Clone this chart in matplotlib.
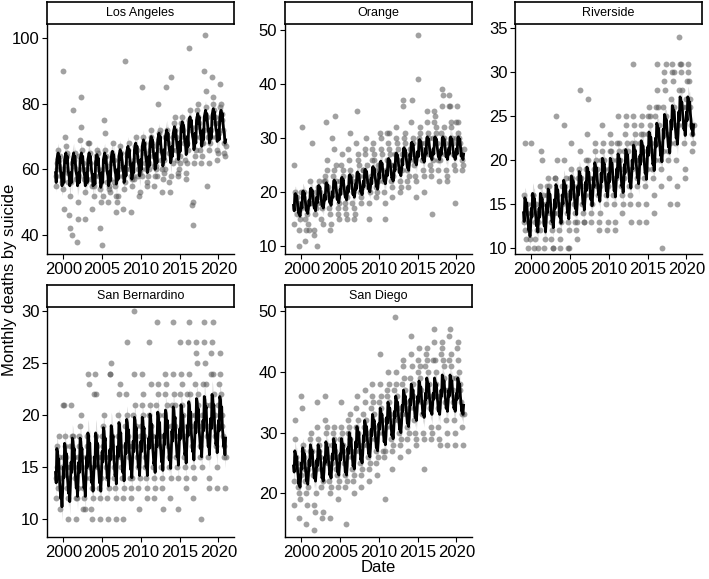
import matplotlib
matplotlib.use("Agg")
import matplotlib.pyplot as plt
import numpy as np

plt.rcParams['font.family'] = ['Liberation Sans', 'DejaVu Sans']

# ------------------------------------------------------------------ #
#  Monthly deaths by suicide, one row per year (1999 .. 2020, Jan-Dec)
# ------------------------------------------------------------------ #
years = list(range(1999, 2021))

la_deaths = [
    [58, 55, 62, 60, 66, 63, 61, 64, 60, 58, 56, 54],
    [90, 48, 60, 70, 67, 64, 65, 59, 56, 46, 42, 52],
    [56, 40, 62, 78, 61, 63, 65, 57, 60, 38, 45, 50],
    [58, 64, 69, 82, 73, 66, 62, 60, 57, 45, 53, 56],
    [60, 57, 68, 62, 68, 65, 62, 57, 48, 55, 58, 52],
    [55, 58, 62, 64, 66, 65, 60, 58, 54, 42, 50, 56],
    [37, 52, 60, 75, 71, 66, 64, 61, 56, 50, 54, 55],
    [57, 53, 62, 65, 64, 68, 63, 56, 55, 52, 47, 50],
    [58, 52, 60, 63, 67, 65, 62, 61, 58, 48, 54, 56],
    [93, 60, 64, 65, 66, 68, 62, 60, 58, 47, 55, 57],
    [58, 57, 63, 67, 64, 70, 66, 60, 58, 52, 53, 59],
    [60, 58, 85, 66, 70, 68, 65, 62, 60, 55, 56, 58],
    [62, 60, 66, 70, 72, 68, 67, 64, 61, 55, 58, 60],
    [61, 58, 68, 80, 71, 72, 66, 63, 60, 53, 57, 59],
    [63, 60, 70, 85, 72, 70, 68, 65, 56, 53, 58, 88],
    [66, 62, 70, 74, 72, 76, 70, 66, 63, 58, 59, 60],
    [64, 62, 74, 73, 76, 72, 70, 68, 63, 59, 57, 62],
    [68, 66, 75, 97, 78, 73, 72, 49, 50, 43, 62, 64],
    [70, 66, 73, 78, 80, 76, 74, 70, 66, 62, 64, 68],
    [68, 72, 90, 101, 79, 84, 76, 55, 70, 66, 62, 68],
    [72, 70, 88, 80, 82, 78, 76, 74, 70, 66, 63, 65],
    [74, 71, 79, 86, 80, 77, 75, 72, 68, 65, 64, 67],
]

orange_deaths = [
    [14, 25, 17, 20, 18, 19, 16, 18, 10, 13, 15, 17],
    [20, 32, 19, 18, 20, 15, 11, 13, 17, 16, 14, 18],
    [13, 18, 22, 20, 29, 18, 19, 12, 13, 16, 17, 20],
    [10, 18, 21, 19, 22, 20, 18, 15, 17, 14, 19, 22],
    [23, 22, 33, 26, 24, 21, 19, 17, 16, 13, 14, 30],
    [20, 23, 24, 28, 34, 25, 22, 19, 17, 16, 15, 18],
    [22, 21, 25, 27, 23, 24, 20, 18, 17, 16, 15, 19],
    [21, 28, 26, 31, 24, 23, 22, 18, 20, 17, 15, 16],
    [22, 29, 35, 27, 26, 25, 23, 20, 19, 18, 21, 24],
    [24, 23, 28, 27, 30, 25, 22, 21, 15, 18, 20, 22],
    [23, 26, 28, 29, 27, 26, 24, 21, 19, 20, 22, 25],
    [24, 25, 31, 30, 28, 27, 23, 22, 20, 15, 18, 24],
    [26, 31, 29, 31, 28, 27, 25, 22, 19, 21, 23, 25],
    [25, 27, 30, 32, 29, 28, 26, 24, 22, 20, 21, 24],
    [27, 37, 36, 30, 31, 29, 27, 24, 22, 21, 23, 26],
    [28, 27, 33, 37, 30, 29, 26, 25, 23, 22, 19, 27],
    [49, 41, 30, 32, 31, 29, 28, 26, 24, 23, 20, 27],
    [29, 28, 35, 33, 31, 30, 27, 25, 23, 24, 16, 26],
    [30, 33, 35, 34, 32, 31, 29, 26, 24, 22, 26, 27],
    [31, 36, 39, 38, 32, 30, 29, 27, 24, 23, 22, 28],
    [36, 38, 36, 33, 32, 30, 29, 27, 25, 18, 24, 33],
    [30, 36, 33, 31, 30, 29, 28, 27, 26, 24, 25, 28],
]

riverside_deaths = [
    [13, 16, 22, 12, 11, 14, 15, 10, 12, 13, 11, 14],
    [22, 15, 16, 16, 10, 11, 13, 14, 15, 12, 10, 13],
    [14, 12, 17, 21, 20, 15, 16, 13, 10, 11, 14, 15],
    [16, 17, 18, 17, 15, 14, 13, 11, 12, 10, 10, 14],
    [18, 18, 25, 20, 16, 15, 14, 12, 11, 10, 13, 15],
    [17, 16, 20, 24, 17, 18, 16, 14, 13, 10, 12, 10],
    [18, 19, 22, 18, 17, 16, 15, 14, 13, 12, 13, 11],
    [17, 18, 19, 28, 21, 18, 17, 15, 14, 13, 13, 16],
    [19, 20, 23, 20, 27, 18, 17, 16, 14, 13, 15, 17],
    [18, 19, 22, 21, 20, 19, 17, 16, 13, 12, 14, 17],
    [20, 24, 21, 22, 20, 19, 18, 16, 15, 12, 13, 17],
    [19, 21, 23, 22, 21, 20, 18, 16, 15, 13, 12, 18],
    [20, 22, 25, 22, 21, 20, 19, 17, 16, 14, 15, 18],
    [21, 23, 25, 24, 22, 21, 19, 17, 16, 15, 13, 19],
    [22, 31, 25, 24, 23, 22, 20, 18, 17, 15, 13, 20],
    [22, 23, 24, 25, 23, 21, 20, 18, 17, 15, 13, 19],
    [23, 25, 26, 25, 24, 22, 21, 19, 18, 16, 14, 20],
    [25, 26, 28, 31, 26, 24, 22, 20, 19, 17, 10, 21],
    [26, 29, 30, 28, 31, 25, 23, 21, 20, 18, 15, 22],
    [27, 30, 31, 29, 30, 26, 24, 22, 20, 17, 15, 24],
    [28, 34, 31, 31, 30, 28, 26, 24, 22, 19, 18, 26],
    [27, 29, 31, 30, 29, 27, 26, 24, 23, 21, 22, 24],
]

sanbern_deaths = [
    [14, 12, 15, 17, 13, 16, 18, 11, 13, 14, 15, 16],
    [21, 21, 17, 18, 16, 15, 13, 10, 12, 14, 15, 17],
    [21, 18, 17, 18, 16, 15, 14, 12, 10, 12, 13, 16],
    [18, 17, 19, 20, 16, 15, 13, 11, 12, 11, 14, 16],
    [17, 18, 24, 23, 16, 15, 14, 11, 13, 10, 12, 15],
    [22, 24, 18, 22, 17, 16, 15, 13, 12, 10, 14, 16],
    [18, 17, 19, 20, 16, 16, 15, 14, 12, 10, 13, 16],
    [24, 24, 25, 18, 17, 16, 15, 14, 13, 10, 12, 16],
    [18, 20, 22, 23, 17, 16, 15, 14, 12, 10, 13, 17],
    [19, 22, 27, 20, 18, 17, 16, 14, 13, 12, 14, 17],
    [20, 24, 30, 21, 19, 17, 16, 15, 13, 11, 14, 18],
    [19, 21, 24, 22, 20, 18, 16, 15, 14, 12, 13, 17],
    [20, 27, 21, 23, 19, 18, 17, 15, 14, 12, 13, 18],
    [21, 29, 23, 22, 20, 18, 17, 15, 14, 13, 11, 18],
    [20, 22, 24, 23, 21, 19, 17, 16, 15, 12, 14, 19],
    [21, 29, 24, 22, 21, 19, 18, 16, 15, 11, 14, 18],
    [22, 27, 24, 23, 21, 20, 18, 16, 15, 14, 13, 19],
    [22, 27, 29, 24, 22, 20, 19, 17, 15, 12, 14, 20],
    [23, 27, 26, 25, 22, 21, 19, 17, 16, 10, 15, 20],
    [23, 27, 29, 25, 23, 21, 19, 18, 16, 14, 13, 21],
    [24, 26, 27, 29, 24, 22, 20, 18, 17, 15, 13, 19],
    [21, 23, 26, 24, 22, 20, 19, 18, 17, 16, 13, 16],
]

sandiego_deaths = [
    [18, 22, 29, 32, 26, 25, 24, 21, 20, 16, 19, 23],
    [36, 34, 27, 28, 26, 24, 22, 20, 15, 18, 21, 24],
    [25, 27, 29, 30, 27, 25, 23, 18, 14, 17, 20, 24],
    [31, 35, 29, 28, 27, 26, 24, 21, 16, 17, 22, 25],
    [32, 36, 30, 31, 28, 26, 25, 22, 20, 16, 21, 25],
    [28, 30, 31, 29, 27, 26, 24, 23, 21, 19, 22, 26],
    [29, 31, 35, 30, 28, 27, 25, 23, 21, 15, 22, 26],
    [30, 32, 31, 33, 29, 27, 26, 24, 22, 20, 23, 27],
    [31, 34, 36, 32, 30, 28, 27, 25, 23, 21, 24, 28],
    [33, 31, 35, 37, 32, 30, 28, 26, 24, 22, 25, 29],
    [34, 38, 36, 35, 33, 31, 29, 27, 25, 23, 26, 30],
    [35, 43, 38, 36, 34, 32, 30, 27, 26, 19, 27, 31],
    [36, 37, 40, 38, 35, 33, 31, 29, 27, 24, 28, 32],
    [37, 49, 40, 38, 36, 34, 32, 30, 28, 26, 29, 33],
    [38, 42, 41, 39, 37, 35, 33, 31, 29, 27, 30, 34],
    [39, 46, 43, 41, 38, 36, 34, 32, 30, 28, 29, 35],
    [40, 42, 44, 41, 39, 37, 35, 33, 30, 24, 29, 35],
    [41, 43, 42, 44, 40, 38, 36, 34, 31, 29, 30, 36],
    [42, 47, 45, 42, 40, 38, 36, 34, 31, 29, 28, 36],
    [43, 45, 44, 42, 41, 39, 37, 35, 32, 30, 28, 37],
    [42, 46, 47, 43, 41, 39, 37, 35, 32, 30, 28, 36],
    [39, 44, 45, 42, 40, 38, 37, 35, 33, 31, 28, 33],
]

# fitted model: yearly level + monthly seasonal offset
la_level = [60, 60, 60, 60, 60, 59.5, 60, 60.5, 61, 62, 63, 64, 65, 66, 67, 68, 69.5, 71, 72, 73, 73.5, 73]
orange_level = [17.5, 18, 18.5, 19, 19.5, 20, 20.5, 21, 21.5, 22, 22.5, 23.5, 24, 25, 26, 27, 27.5, 28,
                28, 28, 28, 28]
riverside_level = [13.5, 14, 14, 14.5, 15, 15.5, 16, 16.5, 17, 17.5, 18, 18, 18.5, 19, 19.5, 20, 21, 22,
                   23, 24, 25, 25]
sanbern_level = [14, 14.5, 15, 15, 15.5, 15.5, 16, 16.2, 16.5, 16.8, 17, 17, 17.3, 17.5, 17.7, 18, 18.2,
                 18.5, 18.8, 19, 19.2, 19]
sandiego_level = [24, 24.5, 25, 25, 25.5, 26, 26, 27, 28, 29, 30, 31, 32, 33, 34, 35, 35.5, 36, 36, 36.5,
                  36.5, 36]

la_season = [-1, -4, 3, 4, 5, 2, 4, 1, -1, -2, -5, -4]
orange_season = [0, -1, 2, 2.2, 1.5, 1.8, 0.5, -0.5, -1.5, -1.2, -2, -1]
riverside_season = [0.5, -0.5, 2.2, 2, 1.5, 1.6, 0.3, -0.5, -1.5, -1.2, -2.2, -1]
sanbern_season = [0.5, -0.5, 2.8, 2.5, 1.5, 1.8, -0.2, -1, -2, -1.6, -2.8, -1.2]
sandiego_season = [0.5, -0.5, 3, 2.5, 1.8, 2, 0, -1, -2.5, -2, -3, -1.5]

counties = ['Los Angeles', 'Orange', 'Riverside', 'San Bernardino', 'San Diego']
deaths = [la_deaths, orange_deaths, riverside_deaths, sanbern_deaths, sandiego_deaths]
levels = [la_level, orange_level, riverside_level, sanbern_level, sandiego_level]
seasons = [la_season, orange_season, riverside_season, sanbern_season, sandiego_season]
band = [3.0, 1.4, 1.2, 1.3, 1.6]                          # half width of the grey ribbon
ylims = [(34.2, 104.3), (8.5, 51.1), (9.3, 35.5), (8.3, 30.4), (12.8, 50.7)]
yticks = [[40, 60, 80, 100], [10, 20, 30, 40, 50], [10, 15, 20, 25, 30, 35],
          [10, 15, 20, 25, 30], [20, 30, 40, 50]]

# panel placement in pixels (left, top of plot area)
W, H = 709, 579
pos_px = [(47, 24), (285, 24), (515, 24), (47, 307), (285, 307)]
pw, ph, sh = 187, 230, 22

fig = plt.figure(figsize=(W / 100, H / 100), dpi=100)

for k, name in enumerate(counties):
    left, top = pos_px[k]
    ax = fig.add_axes([left / W, 1 - (top + ph) / H, pw / W, ph / H])

    vals = np.array(deaths[k], dtype=float).ravel()
    t = np.array([y + m / 12 for y in years for m in range(12)])
    fit = np.array([levels[k][i] + seasons[k][m] for i in range(len(years)) for m in range(12)])

    ax.scatter(t, vals, s=18, color='#555555', alpha=0.55, linewidths=0, zorder=2)
    ax.fill_between(t, fit - band[k], fit + band[k], color='#999999', alpha=0.35, linewidth=0, zorder=3)
    ax.plot(t, fit, color='black', lw=2.0, zorder=4)

    ax.set_xlim(1997.9, 2022.0)
    ax.set_ylim(*ylims[k])
    ax.set_xticks([2000, 2005, 2010, 2015, 2020])
    ax.set_yticks(yticks[k])
    for s in ['top', 'right']:
        ax.spines[s].set_visible(False)
    ax.spines['left'].set_linewidth(1.0)
    ax.spines['bottom'].set_linewidth(1.0)
    ax.tick_params(labelsize=12, length=3.5, width=0.8, colors='black', pad=2)

    # facet strip
    sax = fig.add_axes([left / W, 1 - top / H, pw / W, sh / H])
    sax.set_xticks([])
    sax.set_yticks([])
    for s in sax.spines.values():
        s.set_linewidth(1.2)
    sax.text(0.5, 0.5, name, ha='center', va='center', fontsize=9, transform=sax.transAxes)

fig.text(378 / W, 1 - 568 / H, 'Date', ha='center', va='center', fontsize=12)
fig.text(10 / W, 1 - 280 / H, 'Monthly deaths by suicide', ha='center', va='center',
         rotation=90, fontsize=12)

fig.savefig('out.png', dpi=100)
